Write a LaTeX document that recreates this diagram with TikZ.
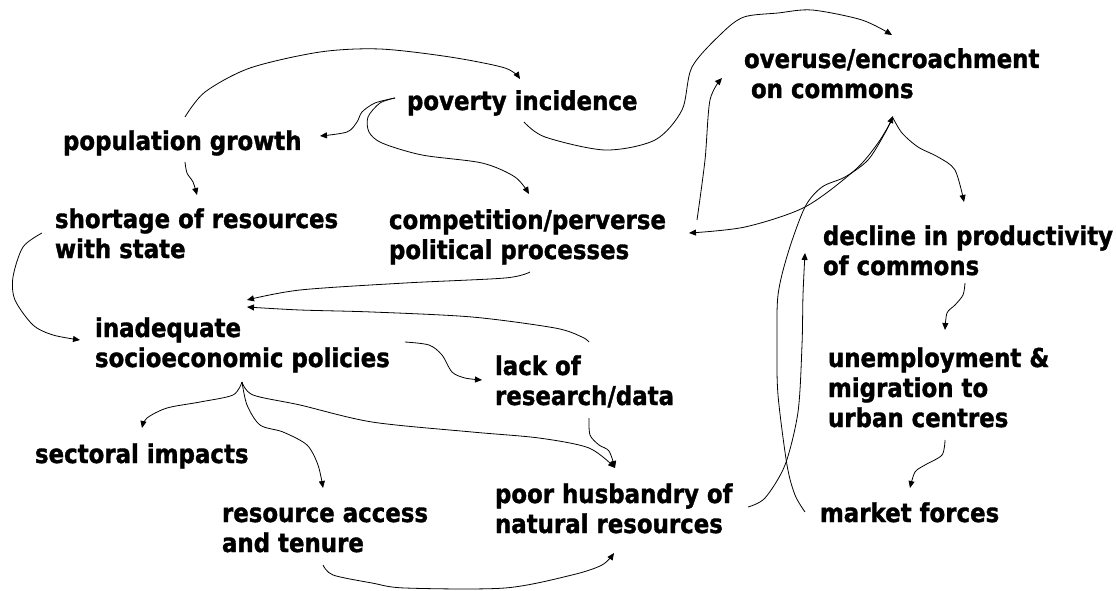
\documentclass[tikz,border=0pt]{standalone}
\usepackage{fontspec}
\newfontfamily\lblfont{DejaVu Sans}[FakeStretch=0.88, BoldFeatures={FakeBold=1.3}]
\usetikzlibrary{arrows.meta}
\newcommand\mylines[1]{\begin{tabular}[t]{@{}l@{}}#1\end{tabular}}
\begin{document}
\begin{tikzpicture}[x=1pt,y=1pt,
  lbl/.style={font=\lblfont\bfseries\fontsize{26}{30}\selectfont, inner sep=0pt, outer sep=0pt, anchor=base west},
  conn/.style={line width=0.8pt, -{Triangle[length=7pt,width=6pt]}}]
\useasboundingbox[fill=white] (0,0) rectangle (1117,-591);
% nodes
\node[lbl] (pov) at (407,-110) {\mylines{poverty incidence}};
\node[lbl] (pop) at (63,-150) {\mylines{population growth}};
\node[lbl] (over) at (744,-68) {\mylines{overuse/encroachment\\\hspace*{7pt}on commons}};
\node[lbl] (short) at (55,-228) {\mylines{shortage of resources\\with state}};
\node[lbl] (comp) at (389,-229) {\mylines{competition/perverse\\political processes}};
\node[lbl] (decl) at (823,-245) {\mylines{decline in productivity\\of commons}};
\node[lbl] (inad) at (95,-337) {\mylines{inadequate\\socioeconomic policies}};
\node[lbl] (lack) at (495,-375) {\mylines{lack of\\research/data}};
\node[lbl] (unemp) at (828,-367) {\mylines{unemployment \&\\migration to\\urban centres}};
\node[lbl] (sect) at (35,-463) {\mylines{sectoral impacts}};
\node[lbl] (res) at (222,-522) {\mylines{resource access\\and tenure}};
\node[lbl] (poor) at (495,-503) {\mylines{poor husbandry of\\natural resources}};
\node[lbl] (mkt) at (820,-522) {\mylines{market forces}};
% connectors
% population growth -> poverty incidence
\draw[conn] plot[smooth] coordinates {([shift={(122,33)}]pop.base west) (205,-92) (250,-68) (320,-52) (380,-49) (450,-57) (505,-68) ([shift={(113,31)}]pov.base west)};
% poverty -> population growth
\draw[conn] plot[smooth] coordinates {([shift={(-12,12)}]pov.base west) (375,-103) (362,-112) (357,-122) (347,-132) ([shift={(257,14)}]pop.base west)};
% poverty -> competition
\draw[conn] plot[smooth] coordinates {([shift={(-12,12)}]pov.base west) (380,-103) (368,-117) (369,-132) (382,-143) (422,-155) (482,-163) (515,-177) ([shift={(140,35)}]comp.base west)};
% population growth -> shortage
\draw[conn] plot[smooth] coordinates {([shift={(122,-12)}]pop.base west) (187,-173) (193,-182) ([shift={(142,33)}]short.base west)};
% shortage -> inadequate
\draw[conn] plot[smooth] coordinates {([shift={(-13,-5)}]short.base west) (23,-247) (13,-277) (15,-300) (33,-325) (53,-335) ([shift={(-15,-3)}]inad.base west)};
% competition -> inadequate
\draw[conn] plot[smooth] coordinates {([shift={(141,-43)}]comp.base west) (505,-278) (405,-283) (300,-290) ([shift={(152,37)}]inad.base west)};
% lack of research -> inadequate
\draw[conn] plot[smooth] coordinates {([shift={(94,33)}]lack.base west) (582,-337) (555,-328) (472,-317) (372,-312) (300,-310) ([shift={(152,30)}]inad.base west)};
% inadequate -> lack of research
\draw[conn] plot[smooth] coordinates {([shift={(310,-5)}]inad.base west) (429,-345) (442,-355) (452,-372) (465,-378) ([shift={(-13,-5)}]lack.base west)};
% inadequate -> sectoral impacts
\draw[conn] plot[smooth] coordinates {([shift={(147,-45)}]inad.base west) (233,-395) (200,-402) (167,-408) (147,-418) ([shift={(107,35)}]sect.base west)};
% inadequate -> resource access
\draw[conn] plot[smooth] coordinates {([shift={(147,-45)}]inad.base west) (247,-405) (260,-425) (283,-432) (307,-445) (318,-465) ([shift={(101,34)}]res.base west)};
% inadequate -> poor husbandry
\draw[conn] plot[smooth] coordinates {([shift={(147,-45)}]inad.base west) (253,-395) (300,-405) (372,-422) (472,-432) (539,-438) (589,-448) ([shift={(120,35)}]poor.base west)};
% lack of research -> poor husbandry
\draw[conn] plot[smooth] coordinates {([shift={(94,-43)}]lack.base west) (590,-435) (599,-445) (609,-451) ([shift={(120,35)}]poor.base west)};
% resource access -> poor husbandry
\draw[conn] plot[smooth] coordinates {([shift={(101,-43)}]res.base west) (333,-575) (372,-583) (405,-588) (505,-588) (572,-575) (602,-565) ([shift={(119,-50)}]poor.base west)};
% poverty -> overuse
\draw[conn] plot[smooth] coordinates {([shift={(117,-12)}]pov.base west) (545,-137) (605,-150) (655,-140) (682,-110) (692,-67) (722,-33) (744,-17) (778,-13) (812,-10) (862,-20) ([shift={(148,33)}]over.base west)};
% competition -> overuse
\draw[conn] plot[smooth] coordinates {([shift={(308,9)}]comp.base west) (705,-160) (710,-100) ([shift={(-22,-10)}]over.base west)};
% overuse -> competition
\draw[conn] plot[smooth] coordinates {([shift={(149,-50)}]over.base west) (878,-143) (855,-170) (805,-207) (745,-227) ([shift={(300,-4)}]comp.base west)};
% overuse -> decline
\draw[conn] plot[smooth] coordinates {([shift={(149,-50)}]over.base west) (902,-133) (918,-147) (938,-157) (955,-170) ([shift={(141,43)}]decl.base west)};
% market forces -> overuse
\draw[conn] plot[smooth] coordinates {([shift={(-15,10)}]mkt.base west) (795,-495) (787,-465) (778,-395) (777,-345) (778,-295) (788,-253) (805,-207) (822,-187) (845,-177) (868,-160) (885,-133) ([shift={(149,-48)}]over.base west)};
% poor husbandry -> decline
\draw[conn] plot[smooth] coordinates {([shift={(253,-4)}]poor.base west) (765,-498) (785,-465) (798,-412) (802,-345) (803,-295) ([shift={(-18,-8)}]decl.base west)};
% decline -> unemployment
\draw[conn] plot[smooth] coordinates {([shift={(142,-38)}]decl.base west) (963,-295) (955,-305) (947,-313) ([shift={(117,37)}]unemp.base west)};
% unemployment -> market forces
\draw[conn] plot[smooth] coordinates {([shift={(117,-73)}]unemp.base west) (942,-455) (925,-465) (915,-472) ([shift={(90,34)}]mkt.base west)};
\end{tikzpicture}
\end{document}
